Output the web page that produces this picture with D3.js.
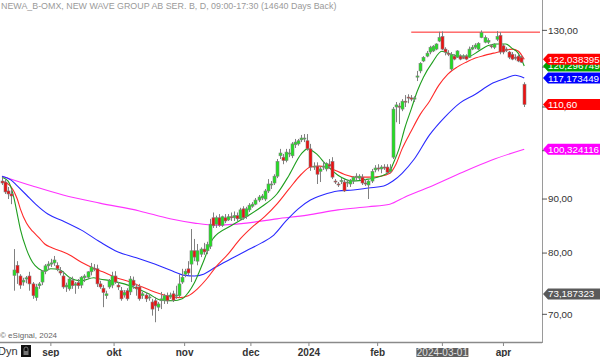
<!DOCTYPE html>
<html><head><meta charset="utf-8">
<script src="https://cdn.jsdelivr.net/npm/d3@7"></script>
<style>
body{margin:0;background:#fff;}
svg{display:block;font-family:"Liberation Sans",Arial,sans-serif;}
</style>
</head><body>
<svg id="c" width="600" height="357"></svg>
<script>
// ---------- DATA ----------
const title = "NEWA_B-OMX, NEW WAVE GROUP AB SER. B, D, 09:00-17:30 (14640 Days Back)";
const opens = [93.6,93.4,91.6,91.0,76.2,77.9,76.1,75.1,75.6,76.1,74.8,72.6,74.5,75.1,76.9,77.8,78.1,78.3,77.9,76.9,
76.1,74.3,74.0,75.4,74.6,75.0,74.6,75.8,75.9,76.8,77.4,77.3,74.8,74.1,72.9,74.3,74.6,76.1,74.6,73.7,
73.0,73.7,73.5,75.4,74.3,74.3,72.9,73.0,72.6,71.9,72.1,71.1,72.1,72.1,72.9,72.7,73.2,72.9,72.9,75.1,
76.4,77.3,78.1,80.4,78.6,79.8,80.7,80.4,81.2,86.4,85.2,86.4,85.0,86.4,86.0,86.6,86.4,86.8,86.2,88.1,
86.6,87.9,88.6,89.0,89.8,90.2,90.0,91.6,92.8,93.2,94.6,98.9,98.6,97.9,99.3,98.9,101.3,101.5,102.4,102.6,
102.2,100.4,96.5,96.7,95.6,96.5,96.1,97.1,97.7,93.6,93.0,93.6,93.4,93.2,93.0,93.6,94.4,94.2,94.4,93.2,
92.8,93.6,95.9,96.3,96.1,96.5,96.5,95.6,98.6,110.0,110.2,109.5,111.4,112.4,112.2,111.9,117.4,119.0,121.6,122.9,
124.0,124.3,124.8,127.0,128.3,124.8,123.7,119.5,122.9,122.6,122.9,122.6,122.9,122.6,124.8,125.3,124.8,128.0,126.7,126.7,
125.7,125.3,127.5,128.6,125.7,124.8,124.0,123.4,122.6,122.9,122.6,115.6];
const highs = [94.4,94.0,92.4,92.0,80.7,78.6,76.4,75.8,76.1,76.8,75.1,74.8,75.1,77.1,78.1,78.6,79.0,79.5,78.4,77.6,
76.9,75.0,75.9,76.0,75.1,75.6,76.1,76.4,76.9,78.3,78.1,78.0,75.3,74.6,73.7,75.6,76.8,76.9,75.1,74.3,
73.8,74.1,76.1,76.0,74.8,74.8,73.5,73.5,73.2,72.4,72.7,71.9,73.5,73.2,73.4,73.4,73.7,74.5,76.4,77.3,
77.3,78.6,84.3,82.5,81.6,81.0,81.8,82.0,86.2,87.4,86.8,87.1,86.8,87.1,87.1,87.4,87.6,87.4,88.3,88.6,
88.5,89.2,89.4,90.2,90.8,91.0,92.0,94.0,93.6,95.0,98.2,100.4,99.3,100.4,100.4,101.9,102.6,102.6,103.5,103.7,
103.7,101.5,97.5,97.5,96.5,97.7,97.5,98.2,98.6,94.0,93.4,94.2,94.0,93.8,94.0,94.6,95.2,95.0,95.0,94.0,
93.8,96.1,96.9,97.1,96.9,97.1,97.1,97.1,110.0,111.2,111.0,111.9,112.9,113.1,112.9,112.6,119.0,121.3,122.9,124.3,
125.7,125.9,126.4,129.6,129.7,125.3,124.5,124.0,123.4,124.5,123.4,123.4,123.4,125.5,125.9,126.4,126.7,130.0,128.6,127.8,
126.2,126.4,129.8,129.5,126.2,125.3,124.3,124.0,123.4,123.4,123.1,116.1];
const lows = [92.8,91.0,90.0,89.0,73.7,74.8,74.0,74.5,74.9,73.7,72.4,72.1,74.0,74.6,76.4,77.1,77.6,77.8,76.9,76.2,
74.0,73.5,73.7,74.0,73.2,74.0,74.1,75.1,75.6,76.2,76.9,74.3,74.0,71.1,72.4,74.0,74.1,74.8,73.8,72.1,
72.6,72.1,73.0,74.0,72.9,72.1,72.4,71.9,72.1,69.8,68.8,70.5,70.8,71.6,71.6,72.4,71.9,72.4,72.6,74.8,
75.9,76.2,75.1,78.6,77.9,79.3,79.7,79.8,80.7,84.5,84.5,84.7,84.7,85.4,85.8,85.8,85.8,85.8,85.8,86.0,
86.2,87.5,88.3,88.8,89.4,89.8,89.6,91.2,92.0,92.8,94.2,98.2,97.1,97.5,98.6,98.4,100.6,101.1,101.9,101.9,
100.0,95.7,95.9,93.0,93.4,95.9,95.6,96.1,94.0,93.0,92.4,93.0,91.4,92.4,92.4,93.0,93.8,93.8,92.8,92.6,
90.0,93.2,95.4,95.6,95.2,95.9,95.0,95.2,98.2,106.4,106.0,109.0,110.0,110.9,111.4,111.2,116.4,118.4,121.3,122.6,
123.4,124.0,124.5,126.7,124.5,123.1,122.9,119.0,121.8,122.4,121.8,122.1,121.8,122.4,124.5,124.8,124.5,127.8,126.4,126.2,
125.0,124.8,127.0,123.4,123.4,124.0,122.1,121.8,121.8,121.3,121.1,110.0];
const closes = [93.2,91.4,91.0,90.6,77.1,76.6,74.6,75.4,75.8,74.8,72.9,74.3,74.8,76.9,77.8,78.1,78.3,78.8,77.3,76.6,
74.3,74.6,75.6,74.5,74.8,74.5,75.9,76.1,76.8,77.6,77.3,74.8,74.3,73.4,73.2,75.3,76.1,75.1,74.3,72.4,
73.4,72.4,75.6,74.5,74.0,72.4,73.2,72.4,72.7,70.8,71.3,71.6,72.4,72.9,72.1,73.0,72.2,73.0,74.8,75.9,
76.9,76.6,80.4,79.3,80.4,80.7,80.2,81.5,85.2,84.9,86.4,85.0,86.6,85.8,86.6,86.4,86.8,86.2,87.9,86.4,
88.1,88.8,89.0,89.8,90.4,90.6,91.6,93.0,93.0,94.6,97.7,99.5,97.9,99.7,99.5,101.5,101.9,102.2,102.8,102.8,
100.4,96.5,96.7,95.0,96.1,96.7,97.3,96.7,94.4,93.5,92.8,93.7,91.6,93.4,93.8,94.4,94.6,94.6,93.2,93.0,
93.6,95.6,96.3,96.1,96.5,96.3,95.4,96.1,109.5,110.5,110.0,111.4,111.2,112.3,111.9,112.2,117.7,121.0,122.6,123.7,
125.3,125.6,126.2,128.0,124.8,124.0,123.4,123.4,122.1,124.3,122.1,122.5,122.1,124.8,125.3,125.9,126.4,129.4,128.0,127.2,
125.5,126.2,128.3,124.0,124.0,124.5,122.6,122.1,122.4,121.6,121.3,110.6];

// moving averages at sample bars
const maGreenIdx = [0,2,4,5,6,8,10,12,14,16,19,22,26,30,32,36,40,44,48,52,56,59,61,63,66,69,75,80,85,90,94,98,100,103,106,110,115,120,124,127,128,130,132,134,136,138,141,144,147,150,153,156,159,162,165,167,169,171];
const maGreen = [94.4,93.6,90.0,87.1,84.3,80.7,78.4,77.3,76.9,77.3,77.1,75.9,75.3,75.8,75.6,75.3,74.8,74.1,73.2,72.2,72.1,72.4,73.4,75.0,78.6,82.5,84.9,86.6,88.5,91.0,94.8,99.3,100.4,99.3,97.1,94.8,93.6,94.0,94.6,95.6,97.1,100.4,105.3,109.5,113.9,117.4,121.3,124.2,123.4,122.9,122.9,124.2,125.7,126.2,126.2,125.0,123.7,120.296749];
const maRedIdx = [0,3,5,6,8,10,12,14,16,19,22,26,30,33,37,42,46,50,54,58,61,64,67,70,74,78,82,86,90,94,98,101,104,108,112,116,120,124,127,129,131,134,137,140,143,146,149,152,155,158,161,164,167,169,171];
const maRed = [93.6,92.4,90.0,88.1,85.4,83.9,82.8,81.6,81.0,80.4,79.7,78.4,77.4,76.8,75.9,75.1,74.3,73.5,72.9,72.6,72.9,74.0,75.6,77.6,79.8,82.5,84.7,86.6,89.0,92.0,95.0,96.5,96.7,96.1,95.0,94.4,94.4,94.6,95.2,97.1,100.4,104.4,108.3,111.4,115.3,118.2,120.0,121.3,122.4,123.1,123.7,124.3,124.8,124.3,122.038395];
const maBlueIdx = [0,3,5,8,11,15,20,26,32,38,44,50,55,60,63,66,70,75,80,85,89,93,97,101,105,110,115,120,125,128,131,135,140,145,150,155,160,165,168,171];
const maBlue = [94.6,93.8,92.6,90.8,89.0,87.1,85.8,84.1,82.0,80.2,79.2,78.1,77.1,76.2,76.1,76.4,77.6,79.0,80.4,81.8,83.2,85.8,88.1,89.8,90.8,91.6,91.8,92.2,92.6,93.6,95.2,98.2,103.5,107.6,111.0,113.1,115.6,117.1,117.9,117.173449];
const maMagIdx = [0,10,20,32,45,55,63,70,80,90,100,110,120,127,132,140,150,160,171];
const maMag = [94.6,92.6,90.8,89.2,87.7,86.2,85.4,85.0,85.4,86.2,86.9,87.9,88.5,89.0,90.4,92.4,95.2,97.9,100.324116];

const monthLabels = ["sep","okt","nov","dec","2024","feb","2024-03-01","apr"];
const monthIdx = [16,36.7,59.8,81.5,100.5,123,144.2,164.2];
const yTicks = [70,80,90,100,110,120,130];
const yTickLabels = ["70,00","80,00","90,00","","110,00","","130,00"]; // 100 and 120 are hidden behind flags
const resistanceLevel = 129.5;
const resistanceStartIdx = 134;
const flagValues = [120.296749,122.038395,117.173449,110.60,100.324116,73.187323];
const flagTexts  = ["120,296749","122,038395","117,173449","110,60","100,324116","73,187323"];
const flagColors = ["#00a000","#ff0000","#0000ff","#ff0000","#ff00ff","#5a5a5a"];

// ---------- DRAW ----------
const svg = d3.select("#c");
const W = 600, H = 357, plotR = 542, plotB = 342;
const x = d3.scaleLinear().domain([0,171]).range([2, 2+171*3.054]);
const y = d3.scaleLog().domain([65.9,138.9]).range([plotB,0]);

svg.append("rect").attr("width",W).attr("height",H).attr("fill","#fff");
svg.append("defs").append("clipPath").attr("id","clip")
  .append("rect").attr("x",0).attr("y",0).attr("width",plotR).attr("height",plotB);
const plot = svg.append("g").attr("clip-path","url(#clip)");

// title
svg.append("text").attr("x",1).attr("y",9).attr("font-size",8.9).attr("fill","#9a9a9a").text(title);

// resistance line
plot.append("line").attr("x1",x(resistanceStartIdx)).attr("x2",plotR-2)
  .attr("y1",y(resistanceLevel)).attr("y2",y(resistanceLevel))
  .attr("stroke","#ff2020").attr("stroke-width",1);

// moving averages
const mas = [
  {idx:maMagIdx, v:maMag, c:"#ff33ff"},
  {idx:maBlueIdx, v:maBlue, c:"#2a2aff"},
  {idx:maRedIdx, v:maRed, c:"#ff2a2a"},
  {idx:maGreenIdx, v:maGreen, c:"#1f9f1f"}
];
const line = d3.line().x(d=>x(d[0])).y(d=>y(d[1])).curve(d3.curveMonotoneX);
mas.forEach(m=>{
  plot.append("path").attr("d",line(m.idx.map((k,i)=>[k,m.v[i]])))
    .attr("fill","none").attr("stroke",m.c).attr("stroke-width",1.1);
});

// candles
const candles = opens.map((o,i)=>({i,o,h:highs[i],l:lows[i],c:closes[i]}));
const cg = plot.append("g");
cg.selectAll("line.w").data(candles).join("line")
  .attr("x1",d=>Math.round(x(d.i))+0.5).attr("x2",d=>Math.round(x(d.i))+0.5)
  .attr("y1",d=>y(d.h)).attr("y2",d=>y(d.l))
  .attr("stroke","#808080").attr("stroke-width",1);
cg.selectAll("rect.b").data(candles).join("rect")
  .attr("x",d=>Math.round(x(d.i))-1)
  .attr("width",3)
  .attr("y",d=>y(Math.max(d.o,d.c)))
  .attr("height",d=>Math.max(1,Math.abs(y(d.o)-y(d.c))))
  .attr("fill",d=>d.c>=d.o?"#22e022":"#ee1111")
  .attr("stroke","#808080").attr("stroke-width",0.6);

// frame
svg.append("line").attr("x1",0).attr("x2",plotR).attr("y1",plotB+0.5).attr("y2",plotB+0.5)
  .attr("stroke","#8a8a8a").attr("stroke-width",1.5);
svg.append("line").attr("x1",plotR+0.5).attr("x2",plotR+0.5).attr("y1",0).attr("y2",plotB+1)
  .attr("stroke","#9a9a9a").attr("stroke-width",1);

// y axis
const yg = svg.append("g");
yTicks.forEach((t,i)=>{
  yg.append("line").attr("x1",plotR).attr("x2",plotR+5).attr("y1",y(t)).attr("y2",y(t)).attr("stroke","#555");
  if (yTickLabels[i]) yg.append("text").attr("x",plotR+6).attr("y",y(t)).attr("dy","0.35em")
    .attr("font-size",9.8).attr("fill","#333").text(yTickLabels[i]);
});

// flags
flagValues.forEach((v,i)=>{
  const yy = y(v);
  const g = svg.append("g");
  g.append("path").attr("d",`M${plotR+1},${yy} L${plotR+6},${yy-5.5} L600,${yy-5.5} L600,${yy+5.5} L${plotR+6},${yy+5.5} Z`)
    .attr("fill",flagColors[i]);
  g.append("text").attr("x",plotR+6).attr("y",yy).attr("dy","0.36em")
    .attr("font-size",9.8).attr("fill","#fff").text(flagTexts[i]);
});

// x axis
const xg = svg.append("g");
monthLabels.forEach((m,i)=>{
  const xx = x(monthIdx[i]);
  xg.append("line").attr("x1",xx).attr("x2",xx).attr("y1",plotB+1).attr("y2",plotB+4).attr("stroke","#888");
  if (m === "2024-03-01") {
    xg.append("rect").attr("x",xx-26).attr("y",plotB+6).attr("width",52).attr("height",9.5).attr("fill","#5e5e5e");
    xg.append("text").attr("x",xx).attr("y",plotB+14).attr("text-anchor","middle")
      .attr("font-size",10).attr("fill","#e0e0e0").text(m);
  } else {
    xg.append("text").attr("x",xx).attr("y",plotB+13.5).attr("text-anchor","middle")
      .attr("font-size",10).attr("font-weight","bold").attr("fill","#333").text(m);
  }
});

// footer texts
svg.append("text").attr("x",0).attr("y",338).attr("font-size",8).attr("fill","#666").text("© eSignal, 2024");
svg.append("text").attr("x",-2).attr("y",355).attr("font-size",11).attr("fill","#333").text("Dyn");
svg.append("rect").attr("x",21).attr("y",345).attr("width",10).attr("height",12).attr("fill","#111");
svg.append("path").attr("d","M24,351 v-2 a2,2 0 0 1 4,0 v2").attr("fill","none").attr("stroke","#777").attr("stroke-width",1);
svg.append("rect").attr("x",23.5).attr("y",351).attr("width",5).attr("height",4).attr("fill","#777");
</script>
</body></html>
